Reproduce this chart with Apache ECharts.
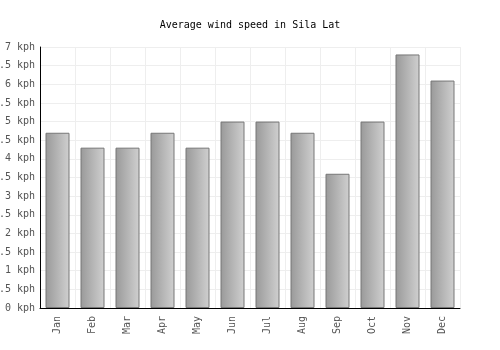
<!DOCTYPE html>
<html>
<head>
<meta charset="utf-8">
<script src="https://cdn.jsdelivr.net/npm/echarts@6/dist/echarts.min.js"></script>
<style>
  html, body { margin: 0; padding: 0; background: #fff; }
  #chart { width: 500px; height: 350px; }
</style>
</head>
<body>
<div id="chart"></div>
<script>
// data
const months = ['Jan', 'Feb', 'Mar', 'Apr', 'May', 'Jun', 'Jul', 'Aug', 'Sep', 'Oct', 'Nov', 'Dec'];
const windSpeed = [4.7, 4.3, 4.3, 4.7, 4.3, 5.0, 5.0, 4.7, 3.6, 5.0, 6.8, 6.1];
const titleText = 'Average wind speed in Sila Lat';
const unit = 'kph';

const chart = echarts.init(document.getElementById('chart'));

const font = '"DejaVu Sans Mono", monospace';

const option = {
  animation: false,
  title: {
    text: titleText,
    left: 'center',
    top: 15,
    textStyle: {
      fontFamily: font,
      fontSize: 10,
      fontWeight: 'normal',
      color: '#000'
    }
  },
  grid: {
    left: 40,
    right: 40,
    top: 47,
    bottom: 42,
    containLabel: false,
    outerBoundsMode: 'none'
  },
  xAxis: {
    type: 'category',
    data: months,
    axisLine: { lineStyle: { color: '#000', width: 1 } },
    axisTick: { show: false },
    axisLabel: {
      rotate: 90,
      fontFamily: font,
      fontSize: 10,
      color: '#555',
      margin: 8
    },
    splitLine: {
      show: true,
      lineStyle: { color: '#eeeeee' }
    }
  },
  yAxis: {
    type: 'value',
    min: 0,
    max: 7,
    interval: 0.5,
    axisLine: { show: true, lineStyle: { color: '#000', width: 1 } },
    axisTick: { show: false },
    axisLabel: {
      fontFamily: font,
      fontSize: 10,
      color: '#555',
      margin: 5,
      formatter: v => v + ' ' + unit
    },
    splitLine: {
      lineStyle: { color: '#eeeeee' }
    }
  },
  series: [{
    type: 'bar',
    data: windSpeed,
    barWidth: 24,
    itemStyle: {
      color: new echarts.graphic.LinearGradient(0, 0, 1, 0, [
        { offset: 0, color: '#999999' },
        { offset: 1, color: '#d0d0d0' }
      ]),
      borderColor: '#777777',
      borderWidth: 1
    }
  }]
};

chart.setOption(option);
</script>
</body>
</html>
